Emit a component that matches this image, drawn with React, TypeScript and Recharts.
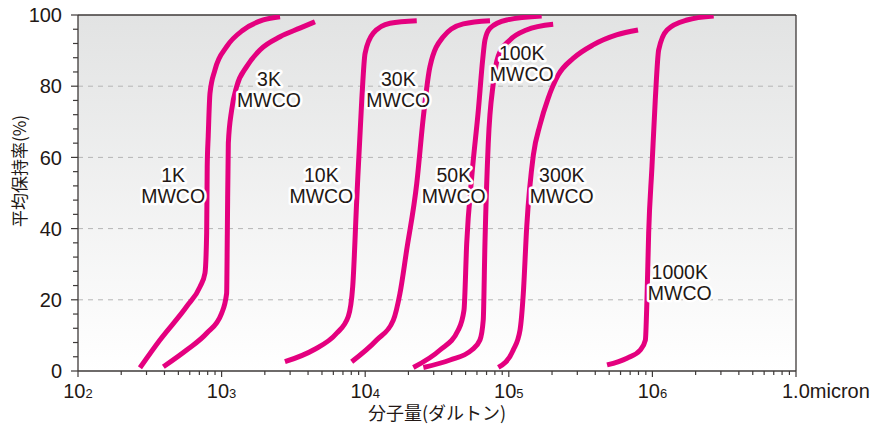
import React from 'react';
import {
  LineChart, Line, XAxis, YAxis, CartesianGrid, ReferenceLine, ReferenceDot, Label,
} from 'recharts';

// ---- data (molecular weight in Daltons, retention in %) ----
const CURVE_1K = [[270, 0.9], [372, 8.7], [571, 18.1], [708, 23.7], [766, 27.5], [787, 38.8], [794, 57.4], [807, 66], [830, 78.0], [899, 84.6], [1084, 91.1], [1416, 95.8], [1950, 98.6], [2553, 99.5]];
const CURVE_3K = [[393, 1.2], [571, 5.9], [787, 10.6], [1000, 16.2], [1084, 21.8], [1096, 38.7], [1114, 64], [1175, 73.3], [1273, 79.9], [1494, 85.5], [1849, 90.2], [2553, 93.9], [3508, 96.3], [4467, 98.1]];
const CURVE_10K = [[2761, 2.6], [4355, 5.9], [6324, 10.6], [7621, 15.3], [8185, 23.7], [8730, 48.0], [9462, 76.1], [9977, 89.2], [11380, 94.9], [14890, 97.7], [22860, 98.4]];
const CURVE_30K = [[8054, 2.6], [12020, 8.7], [15700, 14.3], [17460, 21.8], [19450, 34.0], [22860, 52.7], [25410, 71.4], [28250, 85.5], [34990, 93.9], [48190, 97.5], [73960, 98.4]];
const CURVE_50K = [[21630, 1.0], [33190, 5.9], [44460, 11.5], [48750, 17.1], [50930, 35.9], [55210, 54.6], [61380, 73.3], [65770, 87.4], [68230, 93.0], [73960, 96.3], [96620, 98.6], [169400, 99.7]];
const CURVE_100K = [[25410, 1.0], [39000, 3.1], [55210, 5.9], [62950, 8.7], [66370, 14.3], [68230, 35.9], [71940, 64.0], [77980, 80.8], [84530, 88.5], [101900, 93.0], [132700, 95.8], [203700, 97.4]];
const CURVE_300K = [[84530, 1.0], [107400, 5.9], [119700, 11.5], [126200, 21.8], [133300, 40.5], [148300, 60.7], [164800, 69.1], [187900, 76.6], [220600, 83.1], [280500, 87.8], [386400, 91.6], [562300, 94.4], [794000, 95.8]];
const CURVE_1000K = [[483100, 1.7], [665300, 3.6], [824100, 5.9], [893300, 8.7], [916200, 19.9], [941800, 38.7], [993100, 57.4], [1047000, 76.1], [1106000, 90.2], [1265000, 95.8], [1742000, 98.6], [2673000, 99.7]];

const CURVES = [CURVE_1K, CURVE_3K, CURVE_10K, CURVE_30K, CURVE_50K, CURVE_100K, CURVE_300K, CURVE_1000K];

// curve labels: anchor [mw, retention] and text
const LABEL_POS: [number, number][] = [[460, 52], [2140, 79], [4950, 52], [17000, 79], [41400, 52], [123000, 86.5], [234000, 52], [1550000, 25]];
const LABEL_TOP = ['1K', '3K', '10K', '30K', '50K', '100K', '300K', '1000K'];
const LABEL_BOTTOM = 'MWCO';

// axes
const X_MAJOR = [1e2, 1e3, 1e4, 1e5, 1e6, 1e7];
const X_BASE = ['10', '10', '10', '10', '10', '1.0micron'];
const X_EXP = ['2', '3', '4', '5', '6', ''];
const X_MINOR_MULT = [2, 3, 4, 5, 6, 7, 8, 9];
const X_TICKS: number[] = [];
X_MAJOR.forEach((m, i) => {
  X_TICKS.push(m);
  if (i < X_MAJOR.length - 1) X_MINOR_MULT.forEach((k) => X_TICKS.push(m * k));
});
const Y_LABELED = [0, 20, 40, 60, 80, 100];
const Y_TICKS: number[] = [];
for (let v = 0; v <= 100; v += 4) Y_TICKS.push(v);
const GRID_Y = [20, 40, 60, 80];

const X_TITLE = '分子量(ダルトン)';
const Y_TITLE = '平均保持率(%)';

const PINK = '#e4007f';
const AXIS = '#3e3a39';
const TEXT = '#231815';
const LATIN = '"Liberation Sans", Arial, Helvetica, sans-serif';
const CJK = '"Noto Sans CJK JP", "Noto Sans CJK SC", sans-serif';

const XTick = (props: any) => {
  const { x, y, payload } = props;
  const v = payload.value;
  const idx = X_MAJOR.findIndex((m) => Math.abs(m - v) / m < 1e-6);
  const major = idx >= 0;
  const last = idx === X_MAJOR.length - 1;
  return (
    <g>
      <line x1={x} x2={x} y1={y} y2={y + (major ? 6 : 4)} stroke={AXIS} strokeWidth={1.2} />
      {major && last && (
        <text x={x - 14} y={y + 27} textAnchor="start" fontFamily={LATIN} fontSize={20} fill={TEXT}>
          {X_BASE[idx]}
        </text>
      )}
      {major && !last && (
        <text x={x} y={y + 27} textAnchor="middle" fontFamily={LATIN} fill={TEXT}>
          <tspan fontSize={20}>{X_BASE[idx]}</tspan>
          <tspan fontSize={13}>{X_EXP[idx]}</tspan>
        </text>
      )}
    </g>
  );
};

const YTick = (props: any) => {
  const { x, y, payload } = props;
  const v = payload.value;
  const major = Y_LABELED.includes(v);
  return (
    <g>
      <line x1={x - (major ? 7 : 5)} x2={x} y1={y} y2={y} stroke={AXIS} strokeWidth={1.2} />
      {major && (
        <text x={x - 16} y={y} dy="0.36em" textAnchor="end" fontFamily={LATIN} fontSize={20} fill={TEXT}>
          {v}
        </text>
      )}
    </g>
  );
};

const makeCurveLabel = (top: string) => (p: any) => {
  const vb = p.viewBox || {};
  const cx = (vb.x || 0) + (vb.width || 0) / 2;
  const cy = (vb.y || 0) + (vb.height || 0) / 2;
  return (
    <text
      textAnchor="middle"
      fontFamily={LATIN}
      fontSize={19.5}
      fill={TEXT}
      stroke="#ffffff"
      strokeWidth={5}
      strokeLinejoin="round"
      paintOrder="stroke"
    >
      <tspan x={cx} y={cy - 10.5} dy="0.36em">{top}</tspan>
      <tspan x={cx} y={cy + 10.5} dy="0.36em">{LABEL_BOTTOM}</tspan>
    </text>
  );
};

const YTitle = (p: any) => {
  const vb = p.viewBox || {};
  const x = (vb.x || 0) + 20;
  const y = (vb.y || 0) + (vb.height || 0) / 2 - 22;
  return (
    <text x={x} y={y} transform={`rotate(-90 ${x} ${y})`} textAnchor="middle" dy="0.36em" fontFamily={CJK} fontSize={17} fill={TEXT}>
      {Y_TITLE}
    </text>
  );
};

const XTitle = (p: any) => {
  const vb = p.viewBox || {};
  const x = (vb.x || 0) + (vb.width || 0) / 2;
  const y = (vb.y || 0) + 43;
  return (
    <text x={x} y={y} textAnchor="middle" dy="0.36em" fontFamily={CJK} fontSize={18} fill={TEXT}>
      {X_TITLE}
    </text>
  );
};

export default function App() {
  const series = CURVES.map((c) => c.map(([mw, r]) => ({ mw, r })));
  return (
    <div style={{ position: 'absolute', left: 0, top: 0, width: 877, height: 427, background: '#ffffff' }}>
      <LineChart width={877} height={427} margin={{ top: 15, right: 81, left: 0, bottom: 0 }}>
        <defs>
          <linearGradient id="bgGrad" x1="0" y1="0" x2="0" y2="1">
            <stop offset="0%" stopColor="#e2e3e3" />
            <stop offset="100%" stopColor="#ffffff" />
          </linearGradient>
        </defs>
        <CartesianGrid horizontal={false} vertical={false} fill="url(#bgGrad)" />
        <XAxis
          dataKey="mw"
          type="number"
          scale="log"
          domain={[100, 1e7]}
          allowDataOverflow
          ticks={X_TICKS}
          interval={0}
          tick={<XTick />}
          tickLine={false}
          tickSize={0}
          tickMargin={0}
          axisLine={{ stroke: AXIS, strokeWidth: 1.3 }}
          height={56}
        >
          <Label content={<XTitle />} />
        </XAxis>
        <YAxis
          type="number"
          domain={[0, 100]}
          allowDataOverflow
          ticks={Y_TICKS}
          interval={0}
          tick={<YTick />}
          tickLine={false}
          tickSize={0}
          tickMargin={0}
          axisLine={{ stroke: AXIS, strokeWidth: 1.3 }}
          width={78}
        >
          <Label content={<YTitle />} />
        </YAxis>
        {GRID_Y.map((g) => (
          <ReferenceLine key={`g${g}`} y={g} stroke="#b5b5b5" strokeWidth={1} strokeDasharray="5 5" />
        ))}
        <ReferenceLine y={100} stroke={AXIS} strokeWidth={1.3} />
        <ReferenceLine x={1e7} stroke={AXIS} strokeWidth={1.3} />
        {series.map((d, i) => (
          <Line
            key={`c${i}`}
            data={d}
            dataKey="r"
            type="monotone"
            stroke={PINK}
            strokeWidth={5}
            dot={false}
            activeDot={false}
            isAnimationActive={false}
          />
        ))}
        {LABEL_POS.map(([mw, r], i) => (
          <ReferenceDot
            key={`l${i}`}
            x={mw}
            y={r}
            r={0}
            fill="none"
            stroke="none"
            label={{ content: makeCurveLabel(LABEL_TOP[i]) }}
          />
        ))}
      </LineChart>
    </div>
  );
}
